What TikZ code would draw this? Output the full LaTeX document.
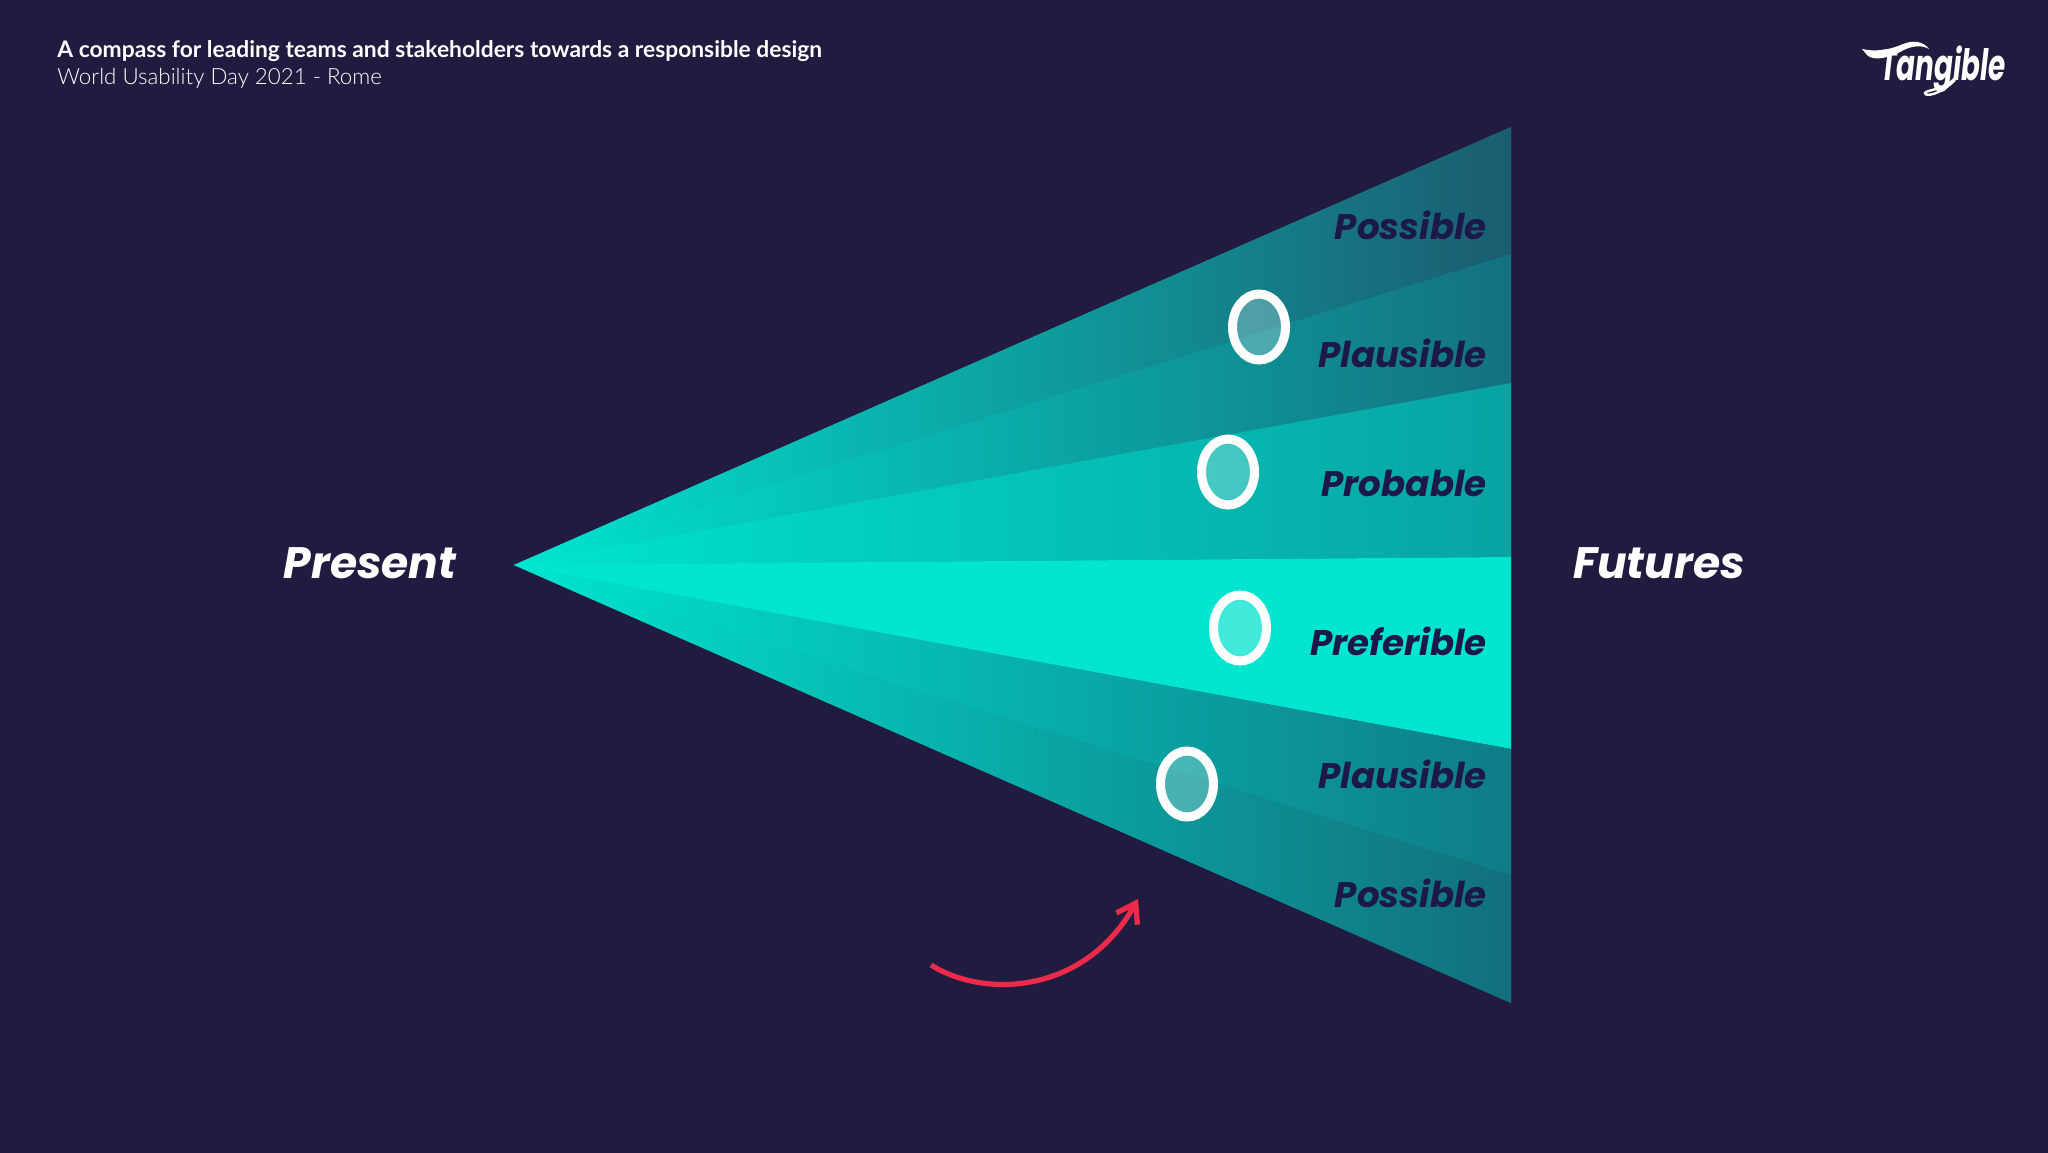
\documentclass[tikz,border=0pt]{standalone}
\usepackage{fontspec}
\setmainfont{Poppins}
\newfontfamily\headfont{Lato}
\newfontfamily\lightfont{Lato Light}
\usetikzlibrary{arrows.meta,shapes.geometric}
\definecolor{bgnavy}{HTML}{211C3F}
\definecolor{inknavy}{HTML}{1C1948}
\definecolor{beamtop}{HTML}{00E5D0}
\definecolor{possiblec}{HTML}{1B5C70}
\definecolor{plausiblec}{HTML}{14717F}
\definecolor{probablec}{HTML}{08A3A2}
\definecolor{plausiblelow}{HTML}{0F7C87}
\definecolor{possiblelow}{HTML}{126F7C}
\definecolor{arrowred}{HTML}{EE2A4B}
\tikzset{
  band/.style={left color=beamtop,right color=#1},
  bandlabel/.style={anchor=base east,inner sep=0pt,text=inknavy,font=\bfseries\itshape\fontsize{17.8}{18}\selectfont},
  sidelabel/.style={anchor=base,inner sep=0pt,text=white,font=\bfseries\itshape\fontsize{22}{22}\selectfont},
  marker/.style={ellipse,draw=white,line width=4.5pt,fill=white,fill opacity=0.25,draw opacity=1,minimum width=26.5pt,minimum height=33pt,inner sep=0pt},
}
\begin{document}
\begin{tikzpicture}[x=0.5pt,y=0.5pt,yscale=-1,xscale=1]
\useasboundingbox (0,0) rectangle (2048,1152);
\fill [bgnavy] (-6,-6) rectangle (2054,1158);

%Beam corners
\coordinate (apex) at (514,565);
\coordinate (e0) at (1511,127);
\coordinate (e1) at (1511,254);
\coordinate (e2) at (1511,383);
\coordinate (e3) at (1511,557);
\coordinate (e4) at (1511,749);
\coordinate (e5) at (1511,875);
\coordinate (e6) at (1511,1003);

%Bands
\shade [band=plausiblec] (apex) -- (e0) -- (e6) -- cycle;
\shade [band=possiblec] (apex) -- (e0) -- (e1) -- cycle;
\shade [band=plausiblec] (apex) -- (e1) -- (e2) -- cycle;
\shade [band=probablec] (apex) -- (e2) -- (e3) -- cycle;
\fill [beamtop] (apex) -- (e3) -- (e4) -- cycle;
\shade [band=plausiblelow] (apex) -- (e4) -- (e5) -- cycle;
\shade [band=possiblelow] (apex) -- (e5) -- (e6) -- cycle;

%Markers
\node [marker] (markerA) at (1259,327) {};
\node [marker] (markerB) at (1228,472) {};
\node [marker] (markerC) at (1240,628) {};
\node [marker] (markerD) at (1187,784) {};

%Band labels
\node [bandlabel] (possibleA) at (1487,239) {Possible};
\node [bandlabel] (plausibleA) at (1487,367) {Plausible};
\node [bandlabel] (probable) at (1487,496) {Probable};
\node [bandlabel] (preferible) at (1487,655) {Preferible};
\node [bandlabel] (plausibleB) at (1487,788) {Plausible};
\node [bandlabel] (possibleB) at (1487,907) {Possible};

%Side labels
\node [sidelabel] (present) at (370,578) {Present};
\node [sidelabel] (futures) at (1659,578) {Futures};

%Header
\node [anchor=base west,inner sep=0pt,text=white,font=\headfont\bfseries\fontsize{11.4}{12}\selectfont] (title) at (57,57) {A compass for leading teams and stakeholders towards a responsible design};
\node [anchor=base west,inner sep=0pt,text=white,font=\lightfont\fontsize{11.15}{12}\selectfont] (subtitle) at (57,84) {World Usability Day 2021 - Rome};

%Logo
\node [anchor=base west,inner sep=0pt,text=white,font=\bfseries\itshape\fontsize{16}{16}\selectfont] (logo) at (1880,80) {\scalebox{0.87}[1.35]{Tangible}};
\fill [white] (1862,49) .. controls (1875,52) and (1890,50) .. (1903,44) .. controls (1913,40) and (1923,41) .. (1929,49) .. controls (1922,45) and (1912,45) .. (1900,52) .. controls (1890,57) and (1874,62) .. (1867,55) -- cycle;
\draw [white,line width=1.2pt] (1955,78) .. controls (1945,90) and (1925,90) .. (1925,93) .. controls (1925,97) and (1940,95) .. (1955,80);

%Red arrow
\coordinate (arrowstart) at (931,965);
\coordinate (arrowtip) at (1138,899);
\draw [arrowred,line width=2.6pt,-{Straight Barb[length=9pt,width=12pt]}] (arrowstart) .. controls (985,999) and (1085,994) .. (arrowtip);
\end{tikzpicture}
\end{document}
